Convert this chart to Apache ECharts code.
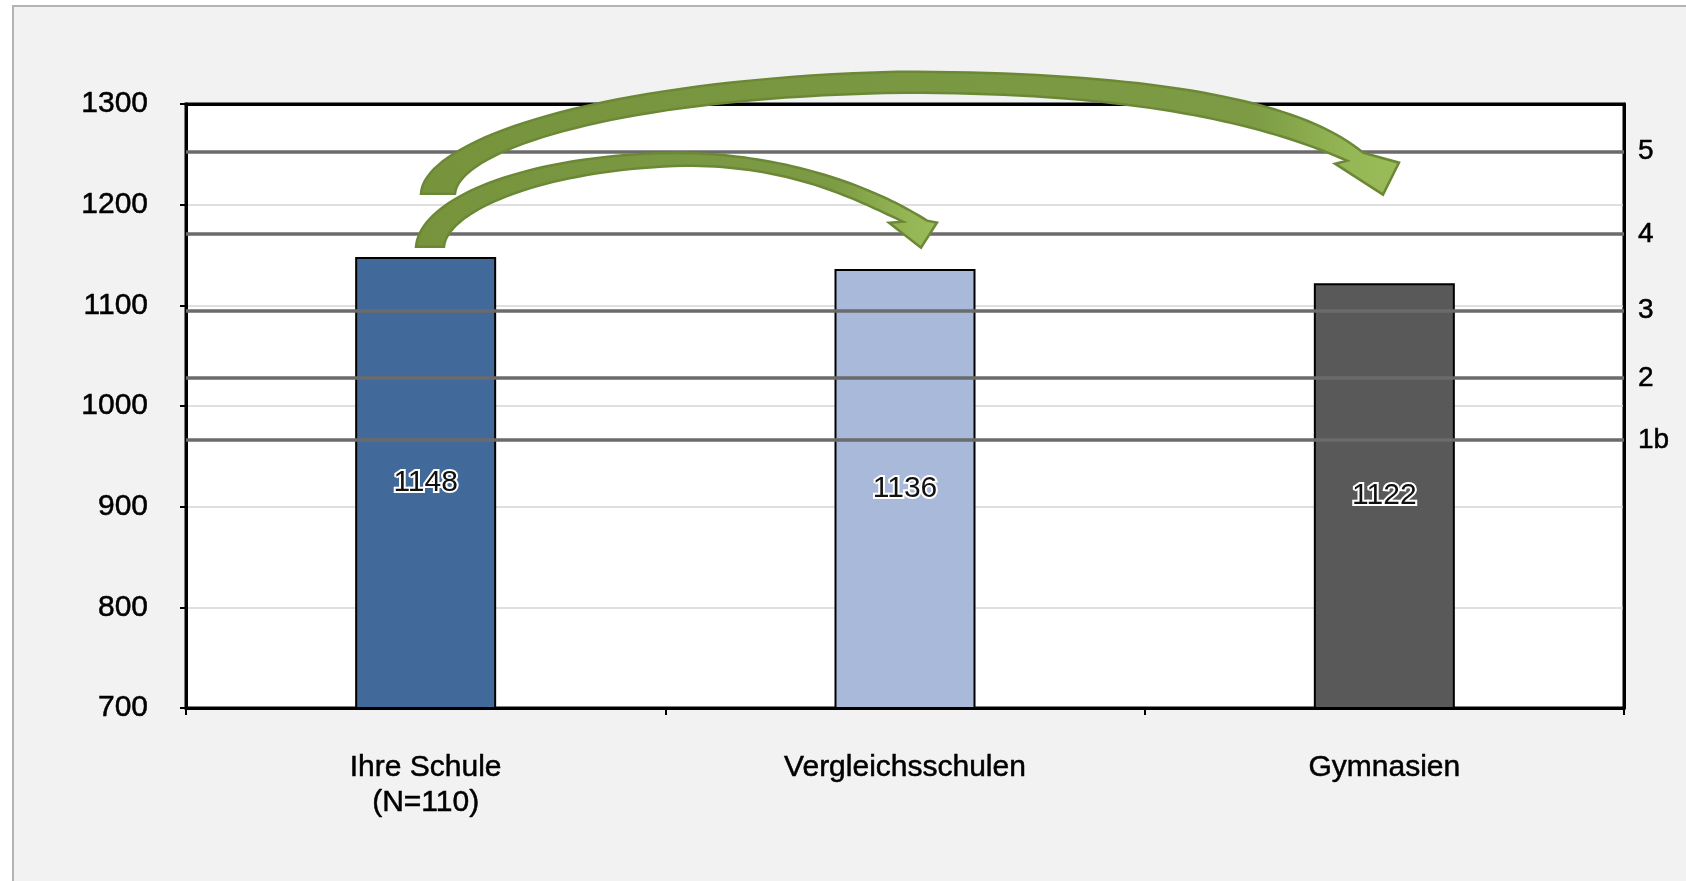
<!DOCTYPE html>
<html><head><meta charset="utf-8">
<script src="https://cdn.jsdelivr.net/npm/echarts@6/dist/echarts.min.js"></script>
<style>html,body{margin:0;padding:0;background:#fff;overflow:hidden}#c{width:1686px;height:881px}</style>
</head><body><div id="c"></div>
<script>
// ---- data ----
const categories = ['Ihre Schule\n(N=110)', 'Vergleichsschulen', 'Gymnasien'];
const values = [1148, 1136, 1122];
const barColors = ['#41699a', '#a9b9d9', '#595959'];
const levelNames = ['5', '4', '3', '2', '1b'];
const levelValues = [1253, 1171, 1095, 1028, 966];
const yMin = 700, yMax = 1300, yStep = 100;

const FONT = 'Liberation Sans, Arial, sans-serif';
const chart = echarts.init(document.getElementById('c'), null, {renderer: 'canvas'});
const heavy = {textBorderColor: '#000', textBorderWidth: 0.5};

const option = {
  backgroundColor: '#f2f2f2',
  animation: false,
  grid: {left: 186, right: 62, top: 104, bottom: 173, show: true, backgroundColor: '#fff', borderColor: '#000', borderWidth: 3},
  xAxis: [{
    type: 'category', data: categories, boundaryGap: true,
    axisLine: {lineStyle: {color: '#000', width: 3}},
    axisTick: {show: true, length: 7, lineStyle: {color: '#000', width: 2}},
    axisLabel: Object.assign({color: '#000', fontSize: 30, lineHeight: 35, margin: 42, fontFamily: FONT}, heavy)
  }, {
    type: 'category', data: categories, position: 'top', boundaryGap: true,
    axisLine: {show: true, lineStyle: {color: '#000', width: 3}},
    axisTick: {show: false}, axisLabel: {show: false}, splitLine: {show: false}
  }],
  yAxis: [{
    type: 'value', min: yMin, max: yMax, interval: yStep,
    axisLine: {show: true, lineStyle: {color: '#000', width: 3}},
    axisTick: {show: true, length: 6, lineStyle: {color: '#000', width: 2}},
    axisLabel: Object.assign({color: '#000', fontSize: 30, margin: 38, fontFamily: FONT, formatter: v => String(v)}, heavy),
    splitLine: {show: true, lineStyle: {color: '#d4d4d4', width: 1.5}}
  }, {
    type: 'value', min: yMin, max: yMax, interval: yStep, position: 'right',
    axisLine: {show: true, lineStyle: {color: '#000', width: 3}},
    axisTick: {show: false}, axisLabel: {show: false}, splitLine: {show: false}
  }],
  series: [
    {
      type: 'line', data: [], z: 1, silent: true,
      markLine: {
        silent: true, symbol: 'none', animation: false,
        lineStyle: {color: '#6b6b6b', width: 3.5, type: 'solid'},
        label: Object.assign({show: true, position: 'end', formatter: '{b}', color: '#000', fontSize: 28, distance: 14, fontFamily: FONT}, heavy),
        data: levelValues.map((v, i) => ({name: levelNames[i], yAxis: v}))
      }
    },
    {
      type: 'bar', z: 3, barWidth: 141,
      data: values.map((v, i) => ({value: v, itemStyle: {color: barColors[i]}})),
      itemStyle: {borderColor: '#000', borderWidth: 2},
      label: {show: true, position: 'inside', color: '#111', fontSize: 30, fontFamily: FONT,
               textBorderColor: '#fff', textBorderWidth: 4}
    }
  ]
};
chart.setOption(option);

// ---- decorative curved arrows, defined relative to the reference plot frame ----
const REF = {x0: 186, y0: 104.3, x1: 1624, y1: 708.6};
const bigArrow = {
  outer: [[421,194],[424,140],[600,80],[897,72],[1150,72],[1300,100],[1363,153]],
  head: [[1399,163],[1383,195],[1335,164]],
  inner: [[1347,161],[1265,125],[1140,93],[905,93],[620,97],[459,150],[455,194]]
};
const smallArrow = {
  outer: [[416,247],[420,200],[520,155],[680,153],[790,155],[875,188],[927,221]],
  head: [[937,223],[921,248],[889,223]],
  inner: [[903,222],[852,198],[790,166],[685,166],[540,170],[447,212],[444,247]]
};

function cubic(p0, p1, p2, p3, n, out) {
  for (let i = 1; i <= n; i++) {
    const t = i / n, u = 1 - t;
    out.push([u*u*u*p0[0] + 3*u*u*t*p1[0] + 3*u*t*t*p2[0] + t*t*t*p3[0],
              u*u*u*p0[1] + 3*u*u*t*p1[1] + 3*u*t*t*p2[1] + t*t*t*p3[1]]);
  }
}
function arrowPoints(a) {
  const o = a.outer, n = a.inner, pts = [o[0]];
  cubic(o[0], o[1], o[2], o[3], 40, pts);
  cubic(o[3], o[4], o[5], o[6], 40, pts);
  a.head.forEach(p => pts.push(p));
  pts.push(n[0]);
  cubic(n[0], n[1], n[2], n[3], 40, pts);
  cubic(n[3], n[4], n[5], n[6], 40, pts);
  return pts;
}

function buildGraphic() {
  const c0 = chart.convertToPixel({xAxisIndex: 0}, 0);
  const c1 = chart.convertToPixel({xAxisIndex: 0}, 1);
  const c2 = chart.convertToPixel({xAxisIndex: 0}, 2);
  const cw = c1 - c0;
  const gx0 = c0 - cw / 2, gx1 = c2 + cw / 2;
  const gy0 = chart.convertToPixel({yAxisIndex: 0}, yMax);
  const gy1 = chart.convertToPixel({yAxisIndex: 0}, yMin);
  const m = p => [gx0 + (p[0] - REF.x0) / (REF.x1 - REF.x0) * (gx1 - gx0),
                  gy0 + (p[1] - REF.y0) / (REF.y1 - REF.y0) * (gy1 - gy0)];
  function grad(start) {
    return {type: 'linear', x: 0, y: 0, x2: 1, y2: 0, colorStops: [
      {offset: 0, color: '#77943d'}, {offset: start, color: '#7c9b44'},
      {offset: 0.95, color: '#96b755'}, {offset: 1, color: '#9bbb59'}]};
  }
  return [
    {type: 'rect', silent: true, z: 100, shape: {x: 0, y: 0, width: 1686, height: 6}, style: {fill: '#fff'}},
    {type: 'rect', silent: true, z: 100, shape: {x: 0, y: 0, width: 13, height: 881}, style: {fill: '#fff'}},
    {type: 'polyline', silent: true, z: 101, shape: {points: [[13, 881], [13, 6], [1686, 6]]}, style: {stroke: '#b3b3b3', lineWidth: 2, fill: null}},
    {type: 'polygon', silent: true, z: 110, shape: {points: arrowPoints(smallArrow).map(m)},
     style: {fill: grad(0.8), stroke: '#6b8836', lineWidth: 2.5, lineJoin: 'miter'}},
    {type: 'polygon', silent: true, z: 111, shape: {points: arrowPoints(bigArrow).map(m)},
     style: {fill: grad(0.85), stroke: '#6b8836', lineWidth: 2.5, lineJoin: 'miter'}}
  ];
}
chart.setOption({graphic: buildGraphic()});
</script>
</body></html>
